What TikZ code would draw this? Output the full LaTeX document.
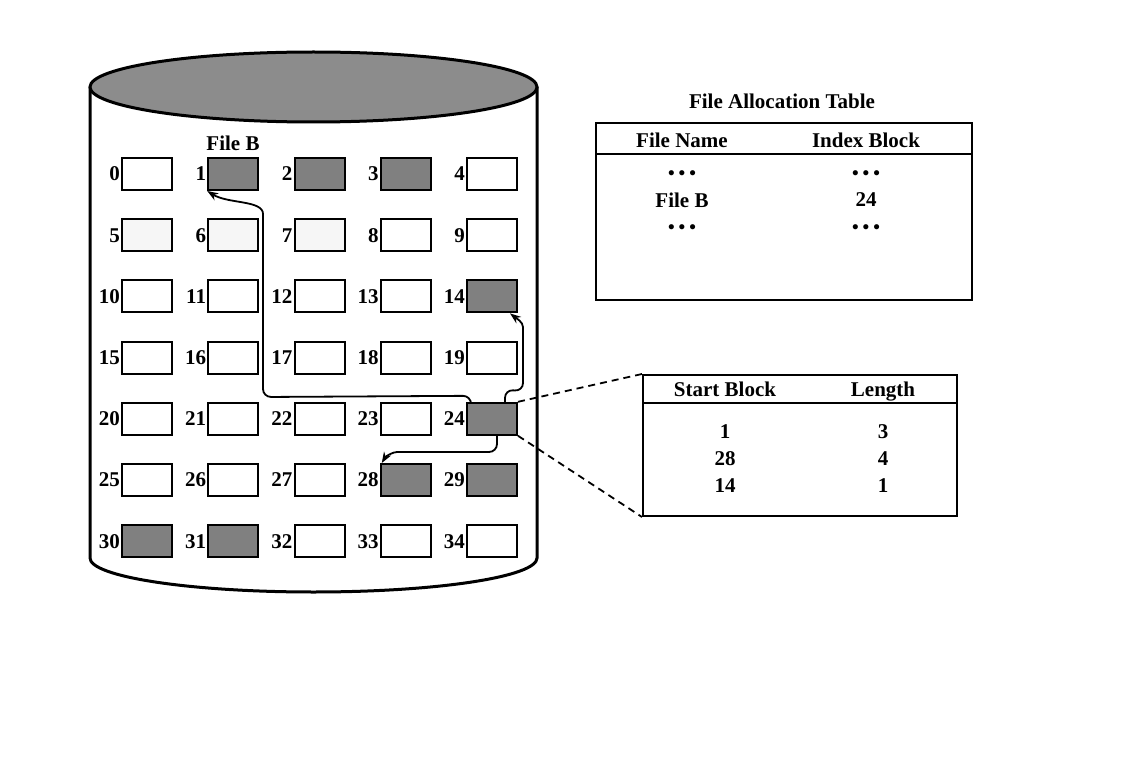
\documentclass[tikz,border=0pt]{standalone}
\usepackage{fontspec}
\setmainfont{Liberation Serif}
\usetikzlibrary{arrows.meta,calc}
\definecolor{blockgray}{RGB}{128,128,128}
\definecolor{diskgray}{RGB}{140,140,140}
\definecolor{palegray}{RGB}{246,246,246}
\newcommand{\rowdots}{{\fontsize{19}{21}\selectfont\textbullet\hspace{4pt}\textbullet\hspace{4pt}\textbullet}}
\begin{document}
\begin{tikzpicture}[x=1pt,y=-1pt,
  lbl/.style={font=\fontsize{21}{25}\selectfont\bfseries, inner sep=0pt, text depth=0pt},
  blk/.style={draw, line width=2pt, minimum width=50pt, minimum height=32pt, inner sep=0pt},
  link/.style={line width=1.8pt, rounded corners=8pt, -{Stealth[length=11pt,width=8pt]}},
  zoomline/.style={line width=1.8pt, dash pattern=on 7pt off 5pt},
  tablebox/.style={draw, line width=2pt, inner sep=0pt}
]
\useasboundingbox (0,0) rectangle (1140,770);

% disk body and top
\draw[line width=3pt] (90,87) -- (90,558)
  arc[start angle=180, end angle=0, x radius=223.5, y radius=34] -- (537,87);
\draw[line width=3pt, fill=diskgray] (313.5,87) ellipse[x radius=223.5, y radius=35];

% disk blocks 0..34
\foreach \i/\f in {0/white,1/blockgray,2/blockgray,3/blockgray,4/white,
                   5/palegray,6/palegray,7/palegray,8/white,9/white,
                   10/white,11/white,12/white,13/white,14/blockgray,
                   15/white,16/white,17/white,18/white,19/white,
                   20/white,21/white,22/white,23/white,24/blockgray,
                   25/white,26/white,27/white,28/blockgray,29/blockgray,
                   30/blockgray,31/blockgray,32/white,33/white,34/white}{
  \pgfmathtruncatemacro\c{mod(\i,5)}
  \pgfmathtruncatemacro\r{div(\i,5)}
  \node[blk, fill=\f] (b\i) at ({147+86.25*\c},{174+61.2*\r}) {};
  \node[lbl, anchor=east] (n\i) at ([xshift=-1pt]b\i.west) {\i};
}
\node[lbl] (fileb) at (233,143) {File B};

% file allocation table
\node[lbl] (fattitle) at (782,101) {File Allocation Table};
\node[tablebox, minimum width=376pt, minimum height=177pt] (fat) at (784,211.5) {};
\draw[line width=2.4pt] ($(fat.north west)+(0,32)$) -- ($(fat.north east)+(0,32)$);
\node[lbl] (fname) at (682,140) {File Name};
\node[lbl] (findex) at (866,140) {Index Block};
\node[lbl] (fd1) at (682,175) {\rowdots};
\node[lbl] (fd2) at (866,175) {\rowdots};
\node[lbl] (ffile) at (682,200) {File B};
\node[lbl] (fblk) at (866,200) {24};
\node[lbl] (fd3) at (682,229) {\rowdots};
\node[lbl] (fd4) at (866,229) {\rowdots};

% index block contents
\node[tablebox, minimum width=314pt, minimum height=141pt] (idx) at (800,445.5) {};
\draw[line width=2.4pt] ($(idx.north west)+(0,29)$) -- ($(idx.north east)+(0,29)$);
\node[lbl] (ihs) at (725,389) {Start Block};
\node[lbl] (ihl) at (883,389) {Length};
\node[lbl] (is1) at (725,432) {1};
\node[lbl] (il1) at (883,432) {3};
\node[lbl] (is2) at (725,459) {28};
\node[lbl] (il2) at (883,459) {4};
\node[lbl] (is3) at (725,486) {14};
\node[lbl] (il3) at (883,486) {1};

% index block expanded
\draw[zoomline] (b24.north east) -- (idx.north west);
\draw[zoomline] (b24.south east) -- (idx.south west);

% extent pointers
\draw[link] ($(b24.north west)+(5,0)$) -- ++(0,-6) -- (263,397) -- (263,222)
  .. controls (263,200) and (228,204) .. (b1.south west);
\draw[link] ($(b24.north)+(13,0)$) -- ++(0,-12) -- (523,391) -- (523,335)
  .. controls (523,322) and (516,318) .. ($(b14.south)+(18,0)$);
\draw[link] ($(b24.south)+(5,0)$) -- (497,452) -- (405,452)
  .. controls (393,452) and (386,456) .. ($(b28.north west)+(2,0)$);
\end{tikzpicture}
\end{document}
